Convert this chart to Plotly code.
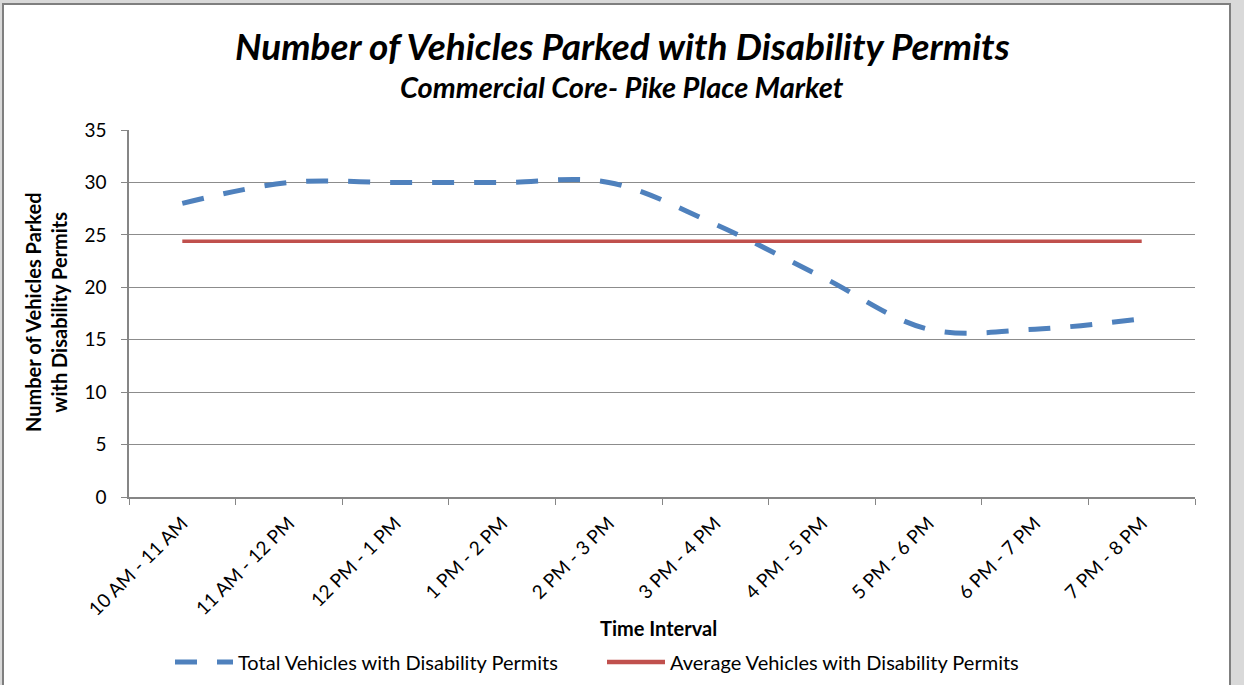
import plotly.graph_objects as go

categories = ["10 AM - 11 AM", "11 AM - 12 PM", "12 PM - 1 PM", "1 PM - 2 PM", "2 PM - 3 PM",
              "3 PM - 4 PM", "4 PM - 5 PM", "5 PM - 6 PM", "6 PM - 7 PM", "7 PM - 8 PM"]
total_vehicles = [28, 30, 30, 30, 30, 26, 21, 16, 16, 17]
average_vehicles = [24.4, 24.4, 24.4, 24.4, 24.4, 24.4, 24.4, 24.4, 24.4, 24.4]
y_ticks = [0, 5, 10, 15, 20, 25, 30, 35]
series_names = ["Total Vehicles with Disability Permits", "Average Vehicles with Disability Permits"]

FONT = "Lato"
BLUE, RED = "#4F81BD", "#C0504D"
W, H = 1244, 685
L, R, T, B = 129, 1195, 130, 497

def px(x):
    return (x - L) / (R - L)

def py(y):
    return (B - y) / (B - T)

fig = go.Figure()
fig.add_trace(go.Scatter(
    x=categories, y=total_vehicles, mode="lines", name=series_names[0],
    line=dict(color=BLUE, width=5, dash="22px,20px", shape="spline", smoothing=1.0),
))
fig.add_trace(go.Scatter(
    x=categories, y=average_vehicles, mode="lines", name=series_names[1],
    line=dict(color=RED, width=3.5),
))

legend_y = py(662)
shapes = [
    dict(type="rect", xref="paper", yref="paper",
         x0=px(3), x1=px(1230), y0=py(720), y1=py(4),
         fillcolor="white", line=dict(color="#7F7F7F", width=2), layer="below"),
    dict(type="line", xref="paper", yref="paper", x0=px(175), x1=px(233), y0=legend_y, y1=legend_y,
         line=dict(color=BLUE, width=5, dash="22px,20px")),
    dict(type="line", xref="paper", yref="paper", x0=px(607), x1=px(665), y0=legend_y, y1=legend_y,
         line=dict(color=RED, width=4.5)),
]

fig.update_layout(
    width=W, height=H,
    margin=dict(l=L, r=W - R, t=T, b=H - B, autoexpand=False),
    paper_bgcolor="#D9D9D9",
    plot_bgcolor="white",
    font=dict(family=FONT, color="black"),
    showlegend=False,
    xaxis=dict(
        type="category", tickson="boundaries", ticks="outside", ticklen=6,
        tickcolor="#868686", showline=True, linecolor="#868686", linewidth=1.5,
        showgrid=False, tickangle=-45, tickfont=dict(family=FONT, size=19, color="black"),
        range=[-0.5, 9.5], fixedrange=True, ticklabelstandoff=6,
    ),
    yaxis=dict(
        range=[0, 35], tickvals=y_ticks, ticks="outside", ticklen=6, tickcolor="#868686",
        showline=True, linecolor="#868686", linewidth=1.5,
        showgrid=True, gridcolor="#8C8C8C", gridwidth=1, zeroline=False,
        tickfont=dict(family=FONT, size=19, color="black"), ticklabelstandoff=11,
    ),
    shapes=shapes,
    annotations=[
        dict(text="<b><i>Number of Vehicles Parked with Disability Permits</i></b>",
             xref="paper", yref="paper", x=px(622), y=py(45), xanchor="center", yanchor="middle",
             showarrow=False, font=dict(family=FONT, size=37, color="black")),
        dict(text="<b><i>Commercial Core- Pike Place Market</i></b>",
             xref="paper", yref="paper", x=px(622), y=py(86), xanchor="center", yanchor="middle",
             showarrow=False, font=dict(family=FONT, size=29, color="black")),
        dict(text="<b>Number of Vehicles Parked<br>with Disability Permits</b>",
             xref="paper", yref="paper", x=px(46), y=py(313), xanchor="center", yanchor="middle",
             textangle=-90, showarrow=False, font=dict(family=FONT, size=20, color="black")),
        dict(text="<b>Time Interval</b>",
             xref="paper", yref="paper", x=px(658), y=py(628), xanchor="center", yanchor="middle",
             showarrow=False, font=dict(family=FONT, size=20, color="black")),
        dict(text=series_names[0], xref="paper", yref="paper", x=px(236), y=legend_y,
             xanchor="left", yanchor="middle", showarrow=False,
             font=dict(family=FONT, size=20, color="black")),
        dict(text=series_names[1], xref="paper", yref="paper", x=px(668), y=legend_y,
             xanchor="left", yanchor="middle", showarrow=False,
             font=dict(family=FONT, size=20, color="black")),
    ],
)

fig.write_html("out.html", config={"displayModeBar": False},
               post_script="document.body.style.margin='0';")
